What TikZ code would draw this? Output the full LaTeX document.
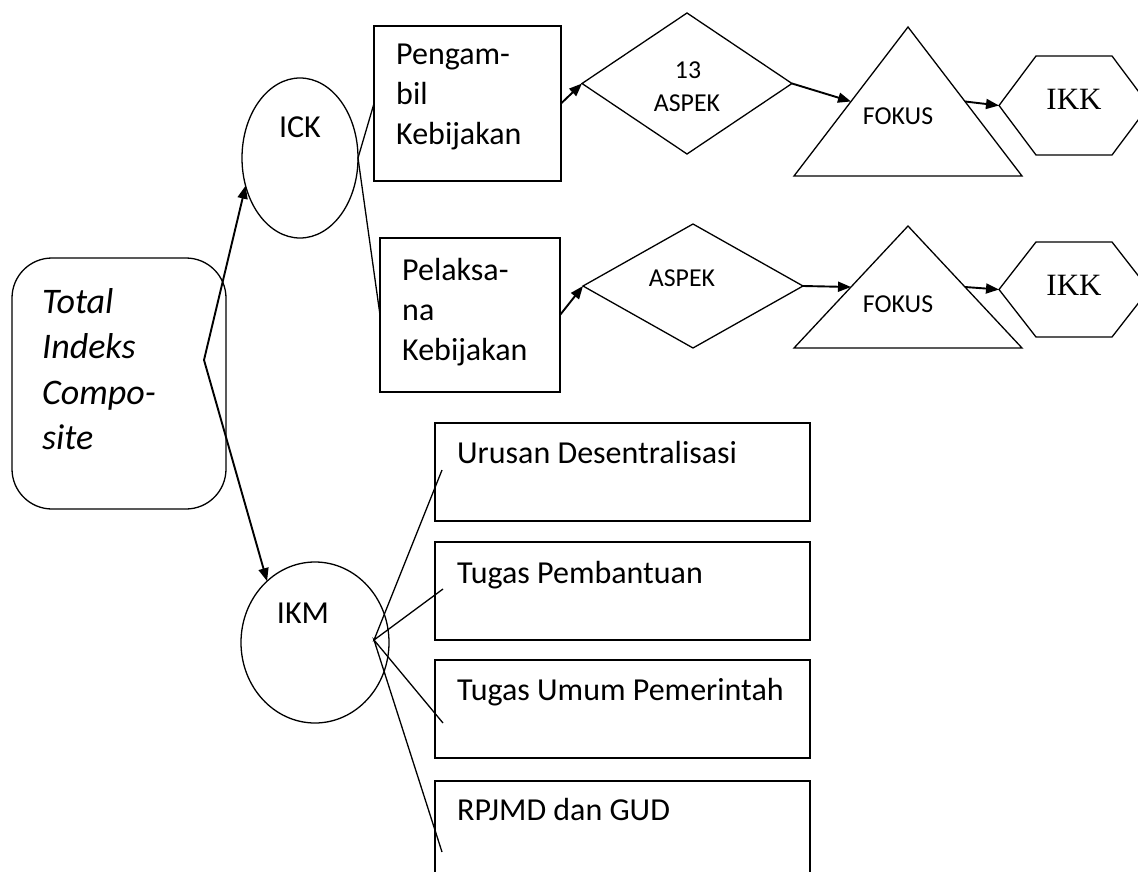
\documentclass[tikz,border=0pt]{standalone}
\usepackage{fontspec}
\setmainfont{Carlito}
\newfontfamily\timesf{Liberation Serif}
\usetikzlibrary{shapes.geometric,arrows.meta,calc}
\begin{document}
\begin{tikzpicture}[x=1pt,y=-1pt,
  shapeline/.style={draw=black,line width=1.3pt,inner sep=0pt,outer sep=0pt},
  boxnode/.style={shapeline,rectangle},
  ovalnode/.style={shapeline,ellipse},
  rhombus/.style={shapeline,diamond},
  maintext/.style={inner sep=0pt,font=\fontsize{32}{40}\selectfont},
  smalltext/.style={inner sep=0pt,font=\fontsize{25.8}{33}\selectfont},
  ikktext/.style={inner sep=0pt,font=\timesf\fontsize{31}{36}\selectfont},
  arr/.style={line width=1.9pt,-{Triangle[length=13pt,width=10pt]}},
  plainline/.style={line width=1.3pt}
]
\useasboundingbox (0,0) rectangle (1138,872);
\fill[white] (0,0) rectangle (1138,872);

% Total box
\node[boxnode,rounded corners=40pt,minimum width=214pt,minimum height=251pt] (total) at (119,383.5) {};
\node[inner sep=0pt,anchor=north west,align=left,font=\itshape\fontsize{36}{45.5}\selectfont] (totaltxt) at (42,288) {Total\\Indeks\\Compo-\\site};
\coordinate (j) at (204,360);

% ICK
\node[ovalnode,minimum width=116pt,minimum height=160pt] (ick) at (300,158) {};
\node[maintext,anchor=base] (icktxt) at (300,138) {ICK};

% IKM
\node[ovalnode,minimum width=148pt,minimum height=161pt] (ikm) at (315,642.5) {};
\node[maintext,anchor=base] (ikmtxt) at (303,623) {IKM};
\coordinate (hub) at (374,640);

% boxes top
\node[boxnode,minimum width=187pt,minimum height=155pt] (peng) at (467.5,103.5) {};
\node[maintext,anchor=north west,align=left] (pengtxt) at (396,44) {Pengam-\\bil\\Kebijakan};
\node[boxnode,minimum width=180pt,minimum height=154pt] (pel) at (470,315) {};
\node[maintext,anchor=north west,align=left] (peltxt) at (402,258) {Pelaksa-\\na\\Kebijakan};

% diamonds
\node[rhombus,minimum width=210pt,minimum height=141pt] (d1) at (687,83.5) {};
\node[smalltext,anchor=base] (d1a) at (688,79) {13};
\node[smalltext,anchor=base] (d1b) at (687,112) {ASPEK};
\node[rhombus,minimum width=220pt,minimum height=124pt] (d2) at (693,286) {};
\node[smalltext,anchor=base] (d2a) at (682,286) {ASPEK};

% triangles
\draw[line width=1.3pt] (794,176) -- (908,27) -- (1022,176) -- cycle;
\coordinate (t1l) at (851,101.5);
\coordinate (t1r) at (965,101.5);
\node[smalltext,anchor=base] (t1txt) at (898,125) {FOKUS};
\draw[line width=1.3pt] (794,348) -- (908,226) -- (1022,348) -- cycle;
\coordinate (t2l) at (851,287);
\coordinate (t2r) at (965,287);
\node[smalltext,anchor=base] (t2txt) at (898,312) {FOKUS};

% hexagons
\draw[line width=1.3pt] (999,105.5) -- (1036,56) -- (1112,56) -- (1149,105.5) -- (1112,155) -- (1036,155) -- cycle;
\coordinate (h1) at (999,105.5);
\node[ikktext,anchor=base] (h1txt) at (1074,110) {IKK};
\draw[line width=1.3pt] (999,289.5) -- (1036,242) -- (1112,242) -- (1149,289.5) -- (1112,337) -- (1036,337) -- cycle;
\coordinate (h2) at (999,289.5);
\node[ikktext,anchor=base] (h2txt) at (1074,295) {IKK};

% bottom boxes
\node[boxnode,minimum width=375pt,minimum height=98pt] (b1) at (622.5,472) {};
\node[maintext,anchor=base west] (b1txt) at (457,463) {Urusan Desentralisasi};
\node[boxnode,minimum width=375pt,minimum height=98pt] (b2) at (622.5,591) {};
\node[maintext,anchor=base west] (b2txt) at (457,583) {Tugas Pembantuan};
\node[boxnode,minimum width=375pt,minimum height=98pt] (b3) at (622.5,709) {};
\node[maintext,anchor=base west] (b3txt) at (457,700) {Tugas Umum Pemerintah};
\node[boxnode,minimum width=375pt,minimum height=98pt] (b4) at (622.5,830) {};
\node[maintext,anchor=base west] (b4txt) at (457,820) {RPJMD dan GUD};
\coordinate (e1) at (442,470);
\coordinate (e2) at (443,589);
\coordinate (e3) at (443,723);
\coordinate (e4) at (442,852);

% connectors
\draw[arr] (j) -- (ick.207);
\draw[arr] (j) -- (ikm.128);
\draw[plainline] (peng.west) -- (ick.east) -- (pel.west);
\draw[arr] (peng.east) -- (d1.west);
\draw[arr] (pel.east) -- (d2.west);
\draw[arr] (d1.east) -- (t1l);
\draw[arr] (d2.east) -- (t2l);
\draw[arr] (t1r) -- (h1);
\draw[arr] (t2r) -- (h2);
\draw[plainline] (e1) -- (hub) -- (e2);
\draw[plainline] (e3) -- (hub) -- (e4);
\end{tikzpicture}
\end{document}
